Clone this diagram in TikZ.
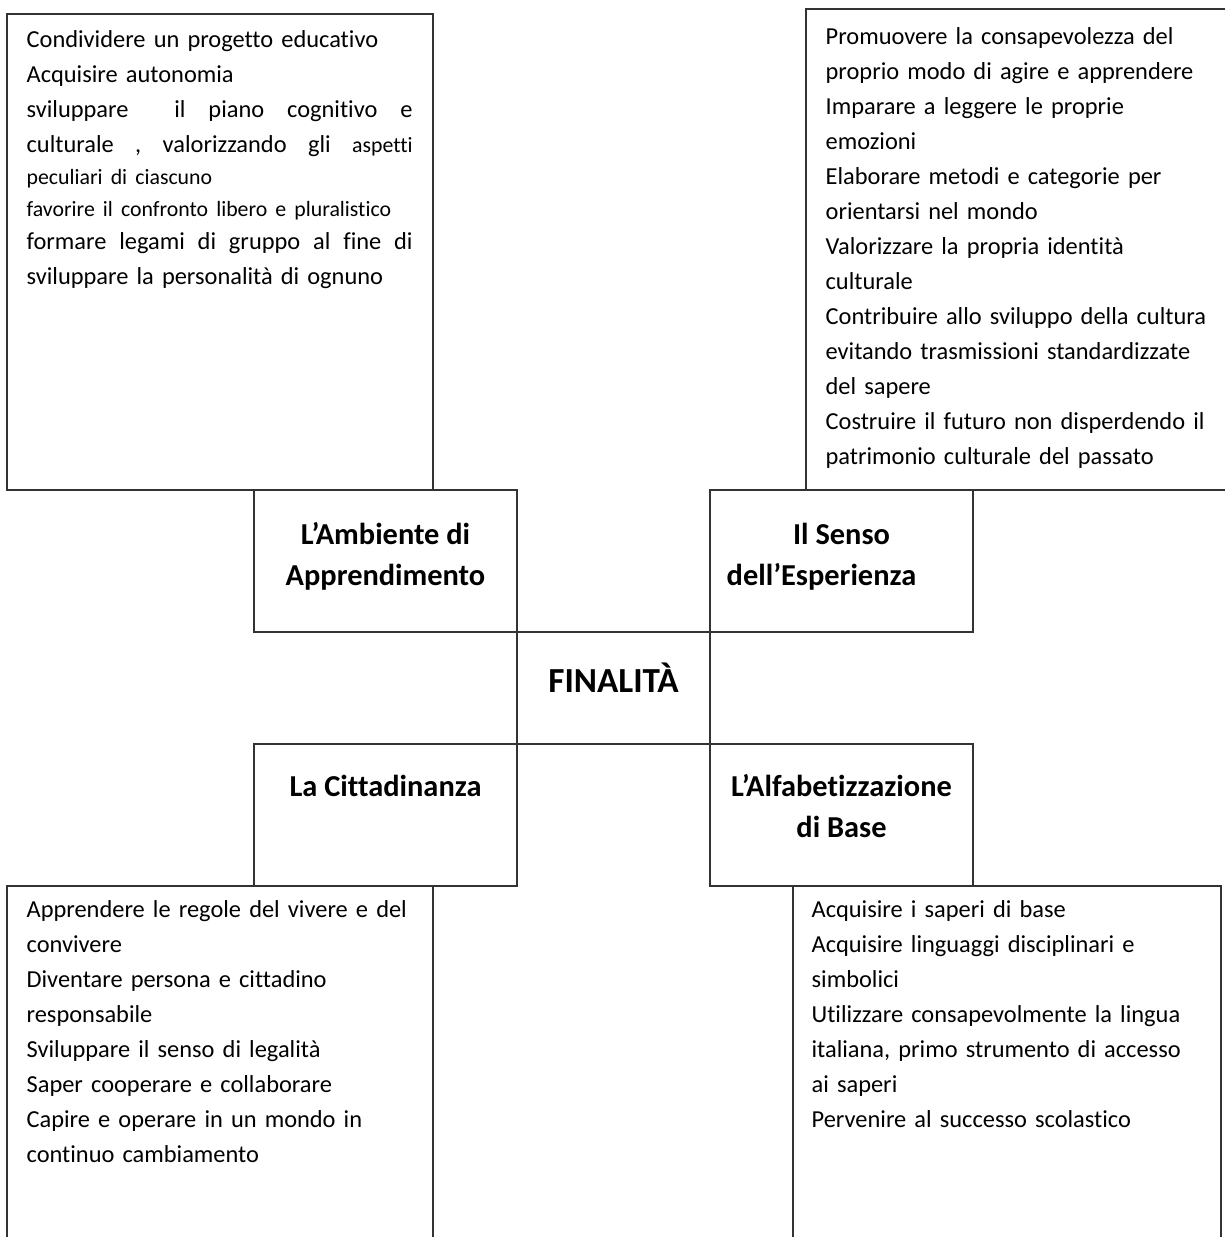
\documentclass[tikz,border=0pt]{standalone}
\usepackage{fontspec}
\setmainfont{Carlito}[Ligatures=NoCommon]
\usetikzlibrary{positioning}
\newcommand{\smalltxt}{\fontsize{10.9}{12}\selectfont}
\begin{document}
\begin{tikzpicture}[x=0.5pt,y=-0.5pt,
	cellbox/.style={draw=black!80,line width=0.75pt,inner sep=0pt},
	headtxt/.style={inner sep=0pt,align=center,font=\fontsize{15.2}{20.5}\selectfont\bfseries},
	bodytxt/.style={inner sep=0pt,text width=205pt,align=left,font=\fontsize{12.2}{17.5}\selectfont}]
	\useasboundingbox (0,0) rectangle (1225,1237);
	\clip (0,0) rectangle (1225,1237);

	% corner boxes
	\node 	(tl)	at	(220,252) 	[cellbox,minimum width=213pt,minimum height=238pt]{};
	\node 	(tr)	at	(1019,249.5) 	[cellbox,minimum width=213pt,minimum height=240.5pt]{};
	\node 	(bl)	at	(220,1074) 	[cellbox,minimum width=213pt,minimum height=188pt]{};
	\node 	(br)	at	(1007,1074) 	[cellbox,minimum width=214pt,minimum height=188pt]{};

	% heading boxes
	\node 	(amb)	at	(385.5,561) 	[cellbox,minimum width=131.5pt,minimum height=71pt]{};
	\node 	(sen)	at	(841.5,561) 	[cellbox,minimum width=131.5pt,minimum height=71pt]{};
	\node 	(fin)	at	(613.5,688) 	[cellbox,minimum width=96.5pt,minimum height=56pt]{};
	\node 	(cit)	at	(385.5,815) 	[cellbox,minimum width=131.5pt,minimum height=71pt]{};
	\node 	(alf)	at	(841.5,815) 	[cellbox,minimum width=131.5pt,minimum height=71pt]{};

	\node 	(ambtxt)	[headtxt,below=13pt of amb.north]	{\strut L’Ambiente di\\Apprendimento};
	\node 	(sentxt)	[headtxt,below=13pt of sen.north]	{\strut Il Senso\\dell’Esperienza\hspace*{20pt}};
	\node 	(cittxt)	[headtxt,below=12pt of cit.north]	{\strut La Cittadinanza};
	\node 	(alftxt)	[headtxt,below=12pt of alf.north]	{\strut L’Alfabetizzazione\\di Base};
	\node 	(fintxt)	at	([yshift=-2pt]fin.center)	[headtxt,anchor=base,font=\fontsize{17.6}{20}\selectfont\bfseries]{FINALITÀ};

	% texts of the corner boxes
	\node 	(tltxt)	[bodytxt,below right=4.75pt and 10pt of tl.north west]
		{\strut Condividere un progetto educativo\\
		Acquisire autonomia\\
		\makebox[193pt][s]{sviluppare\hfill\hfill il\hfill piano\hfill cognitivo\hfill e}\\
		\makebox[193pt][s]{culturale\hfill ,\hfill valorizzando\hfill gli\hfill {\smalltxt aspetti}}\\[-1.5pt]
		{\smalltxt peculiari di ciascuno}\\[-1.5pt]
		{\smalltxt favorire il confronto libero e pluralistico}\\[-1pt]
		\makebox[193pt][s]{formare\hfill legami\hfill di\hfill gruppo\hfill al\hfill fine\hfill di}\\
		sviluppare la personalità di ognuno};

	\node 	(trtxt)	[bodytxt,below right=5.75pt and 10pt of tr.north west]
		{\strut Promuovere la consapevolezza del\\
		proprio modo di agire e apprendere\\
		Imparare a leggere le proprie\\
		emozioni\\
		Elaborare metodi e categorie per\\
		orientarsi nel mondo\\
		Valorizzare la propria identità\\
		culturale\\
		Contribuire allo sviluppo della cultura\\
		evitando trasmissioni standardizzate\\
		del sapere\\
		Costruire il futuro non disperdendo il\\
		patrimonio culturale del passato};

	\node 	(bltxt)	[bodytxt,below right=3.75pt and 10pt of bl.north west]
		{\strut Apprendere le regole del vivere e del\\
		convivere\\
		Diventare persona e cittadino\\
		responsabile\\
		Sviluppare il senso di legalità\\
		Saper cooperare e collaborare\\
		Capire e operare in un mondo in\\
		continuo cambiamento};

	\node 	(brtxt)	[bodytxt,below right=3.75pt and 9.5pt of br.north west]
		{\strut Acquisire i saperi di base\\
		Acquisire linguaggi disciplinari e\\
		simbolici\\
		Utilizzare consapevolmente la lingua\\
		italiana, primo strumento di accesso\\
		ai saperi\\
		Pervenire al successo scolastico};

\end{tikzpicture}
\end{document}
